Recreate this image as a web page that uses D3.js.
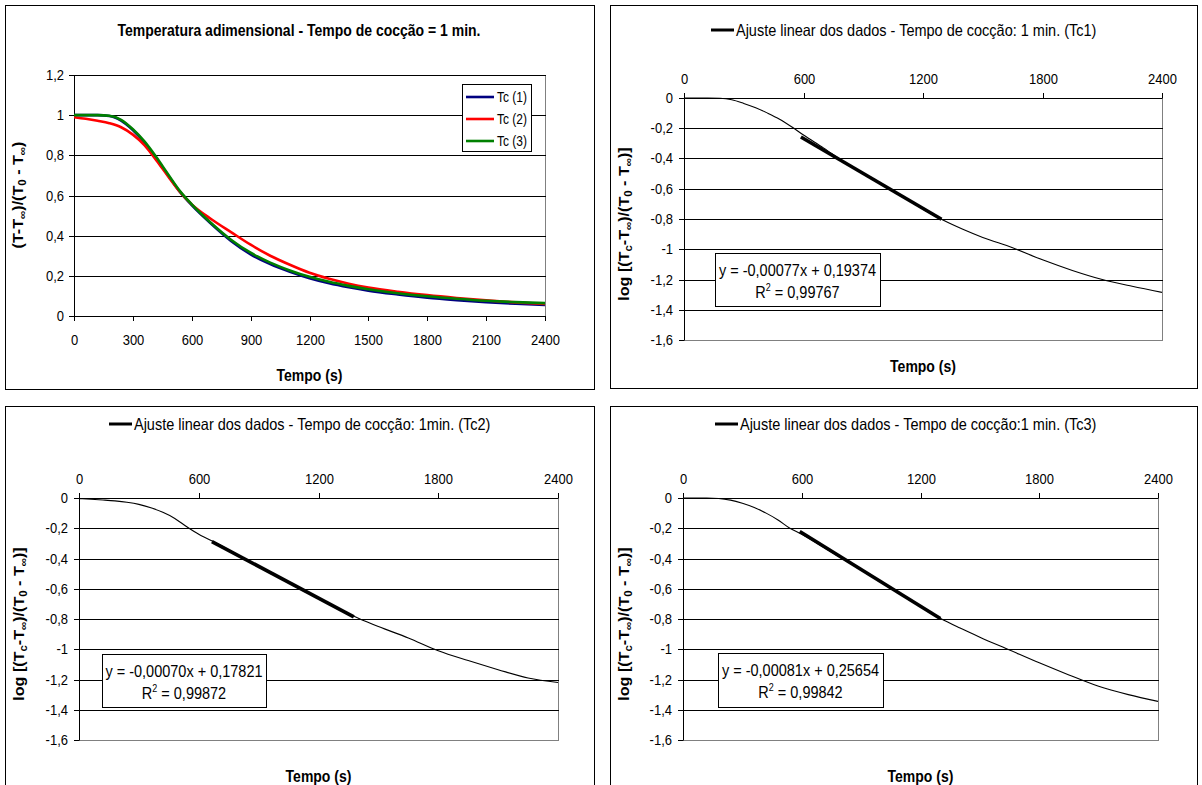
<!DOCTYPE html>
<html>
<head>
<meta charset="utf-8">
<script src="https://cdn.jsdelivr.net/npm/d3@7"></script>
<style>
  html, body { margin: 0; padding: 0; background: #fff; }
  svg { display: block; font-family: "Liberation Sans", Arial, sans-serif; }
</style>
</head>
<body>
<svg id="chart" width="1202" height="785"></svg>
<script>
// ---- Dados ----
// instantes de leitura (s)
const tempo = [0, 60, 120, 180, 240, 300, 360, 420, 480, 540, 600, 700, 800, 900,
               1000, 1100, 1200, 1300, 1400, 1500, 1650, 1800, 1950, 2100, 2250, 2400];

// temperatura adimensional (T - T∞)/(T0 - T∞) de cada termopar
const tc1 = [1.000, 1.000, 1.000, 0.996, 0.973, 0.926, 0.862, 0.783, 0.700, 0.618, 0.552,
             0.458, 0.374, 0.307, 0.258, 0.220, 0.188, 0.163, 0.143, 0.126, 0.107, 0.091,
             0.079, 0.069, 0.061, 0.055];
const tc2 = [0.990, 0.982, 0.972, 0.960, 0.940, 0.903, 0.850, 0.775, 0.695, 0.618, 0.556,
             0.482, 0.418, 0.355, 0.300, 0.255, 0.215, 0.185, 0.161, 0.142, 0.121, 0.104,
             0.090, 0.078, 0.068, 0.060];
const tc3 = [1.000, 1.000, 1.000, 0.997, 0.977, 0.930, 0.868, 0.790, 0.705, 0.622, 0.556,
             0.462, 0.380, 0.315, 0.266, 0.227, 0.195, 0.170, 0.150, 0.133, 0.113, 0.098,
             0.086, 0.076, 0.069, 0.064];
const serieNomes = ["Tc (1)", "Tc (2)", "Tc (3)"];

// log[(Tc - T∞)/(T0 - T∞)] de cada termopar
const logTc1 = [0, 0, 0, -0.002, -0.012, -0.036, -0.065, -0.100, -0.140, -0.190, -0.245,
                -0.330, -0.420, -0.500, -0.575, -0.655, -0.735, -0.807, -0.868, -0.922,
                -0.990, -1.070, -1.140, -1.200, -1.245, -1.285];
const logTc2 = [-0.004, -0.008, -0.013, -0.019, -0.028, -0.042, -0.065, -0.095, -0.135,
                -0.190, -0.240, -0.305, -0.380, -0.452, -0.522, -0.592, -0.662, -0.732,
                -0.795, -0.850, -0.925, -1.010, -1.075, -1.135, -1.190, -1.220];
const logTc3 = [0, 0, 0, -0.003, -0.014, -0.035, -0.063, -0.100, -0.145, -0.200, -0.240,
                -0.318, -0.397, -0.475, -0.555, -0.635, -0.715, -0.795, -0.860, -0.920,
                -1.005, -1.090, -1.170, -1.245, -1.300, -1.345];

// ajustes lineares y = a·x + b
const ajusteA = [-0.00077, -0.00070, -0.00081];
const ajusteB = [0.19374, 0.17821, 0.25654];
const ajusteR2 = [0.99767, 0.99872, 0.99842];
const ajusteInicio = [587, 666, 590];
const ajusteFim = [1293, 1377, 1300];
const ajusteTitulos = [
  "Ajuste linear dos dados - Tempo de cocção: 1 min. (Tc1)",
  "Ajuste linear dos dados - Tempo de cocção: 1min. (Tc2)",
  "Ajuste linear dos dados - Tempo de cocção:1 min. (Tc3)"
];

// eixos
const ticksTempoAdim = [0, 300, 600, 900, 1200, 1500, 1800, 2100, 2400];
const ticksAdim = [0, 0.2, 0.4, 0.6, 0.8, 1, 1.2];
const ticksTempoLog = [0, 600, 1200, 1800, 2400];
const ticksLog = [0, -0.2, -0.4, -0.6, -0.8, -1, -1.2, -1.4, -1.6];

// ---- Estilo ----
const coresSeries = ["#000080", "#ff0000", "#008000"];
const br = d3.formatLocale({ decimal: ",", thousands: ".", grouping: [3], currency: ["", ""], minus: "-" });
const fmtTick = br.format("~g");
const fmt5 = br.format(".5f");

const svg = d3.select("#chart");
const FONT_TICK = 13, FONT_TIT = 14;
const K = 1.15; // letras um pouco mais altas que largas

// alonga verticalmente cada texto em torno do seu ponto de ancoragem
function esticar(sel) {
  sel.each(function () {
    const t = d3.select(this);
    const x = +t.attr("x") || 0, y = +t.attr("y") || 0;
    t.attr("transform", `translate(${x},${y}) scale(1,${K}) translate(${-x},${-y})`);
  });
  return sel;
}

function texto(g, x, y, s, opts = {}) {
  const t = g.append("text").attr("x", x).attr("y", y).attr("dy", "0.35em")
    .attr("text-anchor", opts.anchor || "middle")
    .attr("font-size", opts.size || FONT_TIT)
    .attr("font-weight", opts.bold ? "bold" : null)
    .attr("fill", "#000").text(s);
  esticar(t);
  return t;
}

function moldura(f) {
  svg.append("rect")
    .attr("x", f.x + 0.5).attr("y", f.y + 0.5)
    .attr("width", f.w).attr("height", f.h)
    .attr("fill", "#fff").attr("stroke", "#000").attr("stroke-width", 1);
}

// rótulo vertical com subscritos: partes [texto, subscrito?]
function rotuloY(g, cx, cy, partes) {
  const t = g.append("text")
    .attr("transform", `translate(${cx},${cy}) rotate(-90) scale(${K},1)`)
    .attr("text-anchor", "middle")
    .attr("dy", "0.35em")
    .attr("font-size", FONT_TIT).attr("font-weight", "bold").attr("fill", "#000");
  let desl = 0;
  partes.forEach(([s, sub]) => {
    const alvo = sub ? 3 : 0;
    t.append("tspan")
      .attr("dy", alvo - desl)
      .attr("font-size", sub ? 10 : FONT_TIT)
      .text(s);
    desl = alvo;
  });
}

function clip(id, p) {
  svg.append("clipPath").attr("id", id).append("rect")
    .attr("x", p.l).attr("y", p.t - 2).attr("width", p.r - p.l).attr("height", p.b - p.t + 4);
}

function estiloEixo(a) {
  a.selectAll("text").attr("font-size", FONT_TICK).attr("font-family", null).attr("fill", "#000");
  a.selectAll("line,path").attr("stroke", "#000");
  esticar(a.selectAll("text"));
}

// ---- Painel 1: temperatura adimensional ----
(function () {
  const f = { x: 5, y: 5, w: 589, h: 384 };
  const p = { l: 74, r: 545, t: 75, b: 316 };
  moldura(f);
  const g = svg.append("g");
  const x = d3.scaleLinear().domain([0, 2400]).range([p.l, p.r]);
  const y = d3.scaleLinear().domain([0, 1.2]).range([p.b, p.t]);
  const xr = x.copy().interpolate(d3.interpolateRound);
  const yr = y.copy().interpolate(d3.interpolateRound);

  g.append("rect").attr("x", p.l + 0.5).attr("y", p.t + 0.5)
    .attr("width", p.r - p.l).attr("height", p.b - p.t)
    .attr("fill", "none").attr("stroke", "#808080");
  g.selectAll(".grade").data(ticksAdim.filter(v => v !== 0)).join("line")
    .attr("x1", p.l).attr("x2", p.r + 1)
    .attr("y1", d => yr(d) + 0.5).attr("y2", d => yr(d) + 0.5)
    .attr("stroke", "#000");

  const ax = g.append("g").attr("transform", `translate(0,${p.b})`)
    .call(d3.axisBottom(xr).tickValues(ticksTempoAdim).tickFormat(fmtTick).tickSize(5).tickPadding(13).tickSizeOuter(0));
  const ay = g.append("g").attr("transform", `translate(${p.l},0)`)
    .call(d3.axisLeft(yr).tickValues(ticksAdim).tickFormat(fmtTick).tickSize(5).tickPadding(5).tickSizeOuter(0));
  estiloEixo(ax); estiloEixo(ay);

  clip("c1", p);
  const linha = d3.line().x(d => x(d[0])).y(d => y(d[1])).curve(d3.curveMonotoneX);
  [tc1, tc2, tc3].forEach((s, i) => {
    g.append("path").attr("clip-path", "url(#c1)")
      .attr("d", linha(tempo.map((t, k) => [t, s[k]])))
      .attr("fill", "none").attr("stroke", coresSeries[i]).attr("stroke-width", 2.6)
      .attr("stroke-linejoin", "round");
  });

  texto(g, 299, 30, "Temperatura adimensional - Tempo de cocção = 1 min.", { bold: true });
  texto(g, (p.l + p.r) / 2, 375, "Tempo (s)", { bold: true });
  rotuloY(g, 23, 195, [["(T-T", 0], ["∞", 1], [")/(T", 0], ["0", 1], [" - T", 0], ["∞", 1], [")", 0]]);

  // legenda
  const lg = g.append("g");
  lg.append("rect").attr("x", 462.5).attr("y", 84.5).attr("width", 69).attr("height", 67)
    .attr("fill", "#fff").attr("stroke", "#000");
  serieNomes.forEach((n, i) => {
    const yy = 97 + i * 22;
    lg.append("line").attr("x1", 466).attr("x2", 494).attr("y1", yy).attr("y2", yy)
      .attr("stroke", coresSeries[i]).attr("stroke-width", 2.6);
    texto(lg, 497, yy, n, { anchor: "start", size: 12 });
  });
})();

// ---- Painéis 2-4: log da temperatura e ajuste linear ----
function painelLog(idx, serie, f, p, lgd, caixa, rotX) {
  moldura(f);
  const g = svg.append("g");
  const x = d3.scaleLinear().domain([0, 2400]).range([p.l, p.r]);
  const y = d3.scaleLinear().domain([-1.6, 0]).range([p.b, p.t]);
  const xr = x.copy().interpolate(d3.interpolateRound);
  const yr = y.copy().interpolate(d3.interpolateRound);

  g.append("rect").attr("x", p.l + 0.5).attr("y", p.t + 0.5)
    .attr("width", p.r - p.l).attr("height", p.b - p.t)
    .attr("fill", "none").attr("stroke", "#808080");
  g.selectAll(".grade").data(ticksLog.filter(v => v !== 0 && v !== -1.6)).join("line")
    .attr("x1", p.l).attr("x2", p.r + 1)
    .attr("y1", d => yr(d) + 0.5).attr("y2", d => yr(d) + 0.5)
    .attr("stroke", "#000");

  const ax = g.append("g").attr("transform", `translate(0,${p.t})`)
    .call(d3.axisTop(xr).tickValues(ticksTempoLog).tickFormat(fmtTick).tickSize(5).tickPadding(9).tickSizeOuter(0));
  const ay = g.append("g").attr("transform", `translate(${p.l},0)`)
    .call(d3.axisLeft(yr).tickValues(ticksLog).tickFormat(fmtTick).tickSize(5).tickPadding(6).tickSizeOuter(0));
  estiloEixo(ax); estiloEixo(ay);

  const cid = "cl" + idx;
  clip(cid, p);
  const linha = d3.line().x(d => x(d[0])).y(d => y(d[1])).curve(d3.curveMonotoneX);
  g.append("path").attr("clip-path", `url(#${cid})`)
    .attr("d", linha(tempo.map((t, k) => [t, serie[k]])))
    .attr("fill", "none").attr("stroke", "#000").attr("stroke-width", 1.1);

  // reta ajustada
  const reta = [ajusteInicio[idx], ajusteFim[idx]].map(t => [t, ajusteA[idx] * t + ajusteB[idx]]);
  g.append("path").attr("d", d3.line().x(d => x(d[0])).y(d => y(d[1]))(reta))
    .attr("fill", "none").attr("stroke", "#000").attr("stroke-width", 3.6);

  // legenda no topo
  g.append("line").attr("x1", lgd.x).attr("x2", lgd.x + 23).attr("y1", lgd.y).attr("y2", lgd.y)
    .attr("stroke", "#000").attr("stroke-width", 3);
  texto(g, lgd.x + 25, lgd.y, ajusteTitulos[idx], { anchor: "start", size: 14.5 });

  texto(g, (p.l + p.r) / 2, rotX, "Tempo (s)", { bold: true });
  rotuloY(g, f.x + 19, (p.t + p.b) / 2 + 5,
    [["log [(T", 0], ["c", 1], ["-T", 0], ["∞", 1], [")/(T", 0], ["0", 1], [" - T", 0], ["∞", 1], [")]", 0]]);

  // caixa da equação
  const cx = g.append("g");
  cx.append("rect").attr("x", caixa.x + 0.5).attr("y", caixa.y + 0.5)
    .attr("width", caixa.w).attr("height", caixa.h)
    .attr("fill", "#fff").attr("stroke", "#000");
  const mx = caixa.x + caixa.w / 2;
  texto(cx, mx, caixa.y + 17, `y = ${fmt5(ajusteA[idx])}x + ${fmt5(ajusteB[idx])}`, { size: 14.5 });
  const r2 = cx.append("text").attr("x", mx).attr("y", caixa.y + 39).attr("dy", "0.35em")
    .attr("text-anchor", "middle").attr("font-size", 14.5);
  r2.append("tspan").text("R");
  r2.append("tspan").attr("font-size", 9).attr("dy", -6).text("2");
  r2.append("tspan").attr("dy", 6).text(` = ${fmt5(ajusteR2[idx])}`);
  esticar(r2);
}

painelLog(0, logTc1,
  { x: 610, y: 5, w: 587, h: 383 }, { l: 684, r: 1162, t: 98, b: 340 },
  { x: 711, y: 30 }, { x: 715, y: 253, w: 165, h: 53 }, 366);
painelLog(1, logTc2,
  { x: 5, y: 406, w: 589, h: 400 }, { l: 79, r: 558, t: 498, b: 740 },
  { x: 109, y: 424 }, { x: 102, y: 654, w: 164, h: 53 }, 776);
painelLog(2, logTc3,
  { x: 610, y: 406, w: 587, h: 400 }, { l: 683, r: 1158, t: 498, b: 740 },
  { x: 715, y: 424 }, { x: 718, y: 653, w: 165, h: 54 }, 776);
</script>
</body>
</html>
